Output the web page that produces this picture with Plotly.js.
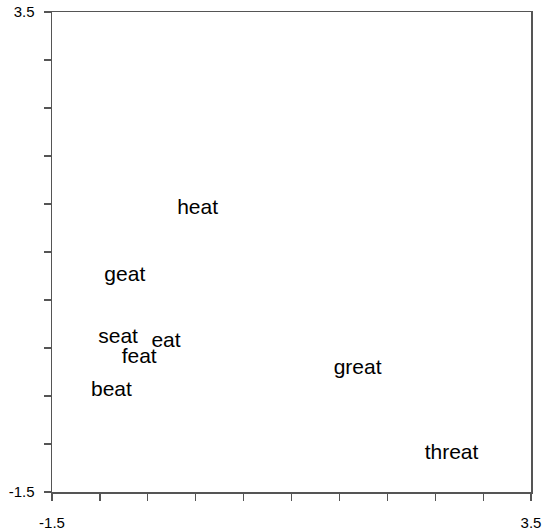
<!DOCTYPE html>
<html>
<head>
<meta charset="utf-8">
<script src="https://cdn.plot.ly/plotly-3.0.1.min.js"></script>
<style>html,body{margin:0;padding:0;background:#fff;}#chart{width:542px;height:529px;}</style>
</head>
<body>
<div id="chart"></div>
<script>
const words = ['heat', 'geat', 'seat', 'eat', 'feat', 'beat', 'great', 'threat'];
const xVals = [0.02, -0.74, -0.81, -0.31, -0.59, -0.88, 1.69, 2.67];
const yVals = [1.45, 0.75, 0.105, 0.065, -0.10, -0.45, -0.215, -1.10];
const tickVals = [-1.5, -1, -0.5, 0, 0.5, 1, 1.5, 2, 2.5, 3, 3.5];
const tickText = ['-1.5', '', '', '', '', '', '', '', '', '', '3.5'];

const trace = {
  x: xVals, y: yVals, text: words,
  mode: 'text', type: 'scatter',
  textposition: 'middle center',
  textfont: {family: 'Liberation Sans, Arial, sans-serif', size: 21, color: '#000'},
  hoverinfo: 'none', showlegend: false
};

const axisCommon = {
  range: [-1.5, 3.5], autorange: false,
  tickmode: 'array', tickvals: tickVals, ticktext: tickText,
  ticks: 'outside', ticklen: 7, tickwidth: 1.2, tickcolor: '#555',
  showline: true, linecolor: '#555', linewidth: 1.5, mirror: true,
  showgrid: false, zeroline: false,
  tickfont: {family: 'Liberation Sans, Arial, sans-serif', size: 15, color: '#000'}
};

const layout = {
  width: 542, height: 529,
  margin: {l: 52, r: 11, t: 12, b: 37, pad: 0},
  paper_bgcolor: '#fff', plot_bgcolor: '#fff',
  xaxis: Object.assign({}, axisCommon, {ticklabelstandoff: 9}),
  yaxis: Object.assign({}, axisCommon, {ticklabelstandoff: 6}),
  showlegend: false
};

Plotly.newPlot('chart', [trace], layout, {displayModeBar: false, staticPlot: true});
</script>
</body>
</html>
